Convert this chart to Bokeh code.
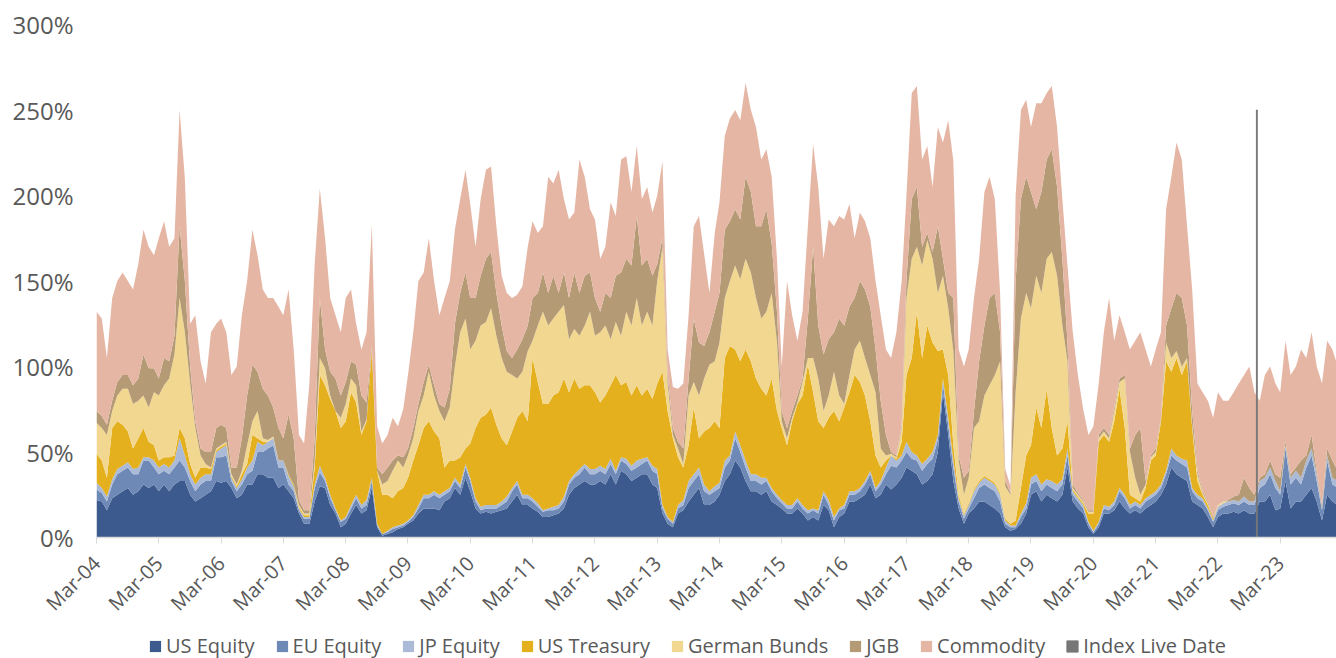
import pandas as pd
from math import pi
from bokeh.plotting import figure
from bokeh.layouts import column
from bokeh.models import (ColumnDataSource, Range1d, FixedTicker,
                          DatetimeTickFormatter, PrintfTickFormatter)
from bokeh.embed import file_html
from bokeh.resources import INLINE

# ---------------- data (monthly, starting Mar-2004) ----------------
start_month = "2004-03-01"

us_equity = [
    22, 21, 16, 23, 25, 27, 29, 25, 27, 31, 29, 31,
    27, 31, 27, 31, 33, 33, 25, 21, 23, 25, 27, 33,
    32, 33, 29, 23, 25, 31, 31, 37, 37, 35, 35, 29,
    31, 27, 23, 14, 8, 8, 21, 30, 29, 19, 14, 6,
    8, 14, 19, 14, 16, 29, 6, 1, 2, 3, 5, 6,
    8, 10, 14, 17, 17, 17, 16, 21, 23, 29, 25, 35,
    27, 17, 14, 15, 14, 15, 16, 17, 21, 25, 19, 19,
    17, 15, 12, 12, 13, 14, 17, 25, 29, 31, 33, 31,
    31, 33, 31, 37, 31, 39, 37, 33, 35, 37, 37, 31,
    29, 14, 8, 6, 14, 16, 21, 25, 29, 19, 19, 21,
    25, 33, 37, 45, 41, 33, 27, 27, 25, 27, 21, 19,
    17, 14, 14, 17, 14, 10, 12, 10, 19, 16, 6, 12,
    14, 21, 21, 23, 25, 31, 23, 25, 31, 28, 31, 35,
    41, 39, 37, 31, 33, 37, 50, 85, 60, 33, 17, 8,
    14, 17, 21, 21, 19, 17, 14, 6, 4, 5, 8, 14,
    25, 27, 21, 25, 23, 21, 25, 41, 21, 17, 14, 6,
    2, 6, 14, 14, 16, 21, 17, 14, 16, 14, 17, 19,
    21, 25, 31, 41, 37, 35, 33, 21, 19, 17, 12, 6,
    12, 14, 14, 15, 14, 16, 14, 14, 21, 21, 25, 16,
    17, 33, 17, 21, 21, 25, 29, 21, 10, 25, 21, 19,
]

eu_equity = [
    6, 5, 5, 8, 12, 12, 12, 12, 10, 14, 16, 10,
    10, 8, 10, 10, 12, 8, 8, 6, 8, 8, 6, 14,
    15, 15, 4, 4, 6, 6, 8, 13, 13, 17, 19, 12,
    10, 4, 4, 2, 3, 3, 8, 8, 4, 4, 2, 3,
    3, 3, 4, 3, 3, 4, 1, 1, 1, 2, 1, 1,
    1, 2, 3, 6, 6, 8, 7, 4, 4, 4, 4, 6,
    6, 4, 2, 2, 3, 2, 3, 4, 6, 6, 4, 4,
    4, 3, 3, 4, 3, 3, 4, 6, 6, 6, 8, 6,
    6, 6, 6, 6, 6, 6, 6, 6, 6, 6, 8, 8,
    8, 3, 3, 2, 3, 3, 8, 8, 8, 8, 6, 6,
    4, 8, 8, 13, 9, 8, 6, 6, 6, 6, 6, 4,
    3, 3, 3, 4, 3, 4, 4, 4, 6, 3, 4, 4,
    3, 4, 4, 4, 6, 6, 4, 6, 6, 14, 10, 10,
    9, 7, 8, 8, 10, 9, 7, 5, 6, 8, 4, 3,
    3, 6, 8, 10, 10, 10, 7, 2, 2, 1, 4, 3,
    6, 6, 6, 6, 6, 6, 6, 7, 4, 4, 3, 2,
    1, 2, 3, 2, 3, 6, 6, 3, 3, 3, 4, 4,
    4, 4, 6, 7, 8, 8, 8, 6, 4, 4, 4, 3,
    4, 4, 5, 5, 5, 5, 5, 5, 8, 10, 12, 13,
    8, 19, 14, 14, 10, 16, 19, 12, 6, 20, 10, 10,
]

jp_equity = [
    4, 3, 3, 3, 3, 3, 3, 3, 4, 2, 2, 4,
    4, 4, 4, 4, 13, 7, 4, 4, 4, 4, 4, 3,
    5, 6, 2, 2, 3, 4, 6, 6, 4, 4, 4, 4,
    4, 5, 3, 1, 1, 1, 2, 4, 2, 2, 1, 1,
    1, 2, 2, 2, 3, 2, 1, 0, 1, 1, 1, 1,
    1, 1, 2, 2, 2, 2, 2, 2, 2, 2, 2, 2,
    2, 2, 2, 2, 2, 2, 2, 3, 2, 2, 2, 2,
    2, 2, 1, 1, 2, 2, 3, 2, 2, 3, 2, 3,
    3, 3, 3, 3, 2, 2, 3, 3, 4, 3, 2, 3,
    3, 2, 1, 1, 2, 3, 4, 4, 4, 4, 2, 3,
    3, 4, 3, 4, 4, 4, 4, 4, 4, 2, 2, 2,
    2, 2, 2, 2, 2, 2, 1, 2, 2, 3, 2, 1,
    2, 2, 2, 2, 2, 2, 2, 2, 4, 6, 4, 3,
    6, 4, 3, 4, 3, 4, 3, 3, 4, 4, 2, 2,
    2, 4, 3, 4, 4, 4, 4, 2, 1, 1, 2, 3,
    4, 4, 4, 3, 4, 4, 3, 4, 2, 2, 2, 1,
    1, 1, 2, 2, 2, 2, 2, 2, 2, 2, 2, 2,
    2, 2, 2, 4, 3, 3, 4, 2, 2, 2, 1, 1,
    2, 2, 2, 2, 2, 3, 2, 2, 4, 4, 4, 4,
    2, 2, 4, 4, 4, 4, 4, 4, 1, 3, 4, 4,
]

us_treasury = [
    17, 16, 11, 30, 28, 24, 18, 12, 17, 17, 9, 9,
    4, 4, 6, 3, 6, 10, 6, 4, 6, 4, 3, 1,
    1, 1, 1, 1, 3, 2, 15, 2, 2, 0, 0, 0,
    0, 1, 1, 1, 1, 1, 10, 53, 54, 56, 57, 54,
    56, 66, 54, 41, 46, 75, 31, 23, 21, 17, 20, 21,
    25, 32, 35, 39, 43, 35, 33, 14, 16, 10, 16, 9,
    20, 41, 52, 53, 57, 47, 37, 30, 33, 37, 49, 43,
    82, 71, 62, 61, 65, 66, 69, 52, 56, 47, 46, 49,
    45, 37, 43, 43, 56, 42, 45, 41, 44, 37, 40, 39,
    50, 78, 62, 49, 28, 19, 21, 39, 17, 31, 37, 38,
    32, 60, 64, 48, 49, 65, 66, 56, 52, 48, 64, 49,
    42, 35, 49, 55, 64, 85, 68, 52, 37, 48, 62, 51,
    57, 58, 68, 62, 50, 29, 19, 8, 4, 0, 1, 8,
    39, 55, 84, 62, 78, 64, 49, 17, 25, 9, 2, 1,
    1, 1, 1, 1, 1, 1, 1, 1, 1, 3, 15, 28,
    19, 39, 33, 53, 31, 17, 18, 16, 1, 1, 1, 5,
    10, 47, 41, 38, 47, 58, 39, 6, 2, 2, 6, 20,
    21, 37, 64, 45, 57, 49, 58, 35, 8, 2, 2, 1,
    0, 0, 0, 0, 0, 0, 0, 0, 0, 0, 0, 0,
    0, 0, 0, 0, 0, 0, 0, 0, 0, 0, 0, 0,
]

german_bunds = [
    18, 19, 25, 10, 15, 21, 25, 26, 22, 19, 20, 31,
    38, 42, 46, 59, 76, 62, 47, 29, 7, 2, 1, 1,
    1, 1, 1, 1, 2, 11, 8, 16, 2, 1, 1, 0,
    0, 0, 0, 1, 1, 1, 4, 10, 10, 2, 0, 6,
    10, 8, 10, 2, 1, 1, 0, 6, 8, 16, 18, 12,
    13, 13, 20, 19, 29, 21, 16, 27, 31, 55, 73, 76,
    55, 51, 54, 54, 58, 52, 47, 43, 33, 23, 23, 41,
    10, 33, 54, 46, 45, 47, 43, 31, 29, 31, 35, 43,
    33, 41, 41, 27, 31, 29, 41, 41, 51, 41, 45, 43,
    60, 73, 16, 2, 5, 2, 29, 15, 25, 31, 37, 35,
    50, 35, 38, 49, 48, 53, 52, 47, 41, 49, 50, 40,
    4, 4, 2, 1, 8, 4, 20, 25, 10, 13, 23, 15,
    2, 10, 15, 24, 22, 27, 37, 11, 3, 1, 1, 8,
    45, 58, 38, 54, 50, 49, 34, 43, 39, 55, 20, 11,
    15, 36, 35, 47, 55, 63, 77, 19, 17, 75, 99, 95,
    80, 77, 79, 76, 103, 105, 72, 35, 1, 1, 1, 1,
    1, 2, 2, 2, 6, 4, 29, 25, 12, 4, 2, 2,
    2, 1, 11, 8, 4, 5, 2, 2, 4, 1, 1, 0,
    1, 1, 0, 0, 0, 0, 0, 0, 0, 0, 0, 0,
    0, 0, 0, 0, 0, 0, 0, 0, 0, 0, 0, 0,
]

jgb = [
    7, 7, 6, 6, 8, 8, 8, 11, 13, 24, 23, 14,
    10, 16, 10, 11, 42, 30, 10, 4, 4, 7, 9, 12,
    12, 8, 4, 10, 19, 29, 33, 23, 29, 26, 17, 19,
    13, 35, 27, 3, 2, 2, 13, 35, 11, 14, 19, 13,
    13, 10, 12, 21, 10, 1, 2, 6, 8, 6, 3, 6,
    4, 6, 4, 8, 4, 6, 4, 8, 11, 25, 23, 27,
    30, 25, 29, 37, 33, 25, 19, 12, 10, 17, 19, 15,
    25, 19, 23, 19, 25, 11, 19, 24, 33, 25, 29, 23,
    22, 12, 19, 24, 27, 37, 31, 35, 48, 35, 31, 29,
    10, 5, 5, 4, 4, 9, 10, 37, 31, 19, 19, 29,
    29, 40, 35, 33, 35, 48, 47, 42, 54, 60, 29, 18,
    6, 6, 4, 4, 2, 23, 65, 31, 33, 33, 23, 45,
    46, 40, 30, 35, 40, 40, 25, 28, 12, 1, 1, 2,
    10, 35, 35, 11, 4, 4, 39, 10, 9, 31, 3, 10,
    4, 10, 35, 41, 51, 48, 17, 3, 1, 65, 70, 68,
    68, 39, 59, 58, 60, 52, 39, 11, 2, 1, 1, 1,
    1, 2, 2, 2, 2, 2, 2, 2, 25, 39, 2, 1,
    2, 1, 10, 29, 34, 40, 19, 8, 2, 1, 1, 1,
    0, 0, 1, 2, 4, 11, 8, 4, 2, 2, 4, 4,
    8, 2, 2, 2, 10, 3, 8, 2, 2, 4, 10, 6,
]

commodity = [
    58, 57, 39, 60, 59, 60, 55, 56, 67, 73, 71, 66,
    82, 80, 67, 57, 68, 60, 25, 62, 51, 40, 70, 61,
    62, 56, 54, 59, 72, 67, 79, 68, 58, 57, 64, 71,
    72, 73, 52, 38, 39, 74, 102, 64, 65, 43, 37, 37,
    49, 42, 24, 27, 41, 71, 24, 18, 19, 25, 17, 28,
    43, 56, 72, 64, 74, 61, 52, 64, 63, 55, 55, 60,
    55, 30, 45, 52, 50, 39, 29, 34, 35, 32, 31, 46,
    45, 35, 27, 68, 54, 72, 43, 46, 35, 78, 58, 37,
    46, 31, 27, 56, 35, 66, 60, 43, 41, 39, 42, 37,
    40, 45, 15, 24, 31, 38, 37, 54, 74, 54, 23, 46,
    53, 55, 60, 58, 58, 55, 48, 58, 39, 35, 39, 31,
    26, 86, 56, 32, 39, 54, 60, 81, 56, 70, 62, 60,
    62, 60, 35, 40, 40, 40, 40, 50, 50, 55, 72, 84,
    50, 62, 59, 51, 51, 38, 58, 68, 101, 80, 62, 65,
    71, 66, 60, 78, 71, 55, 23, 7, 4, 50, 52, 45,
    38, 62, 52, 39, 37, 35, 35, 45, 89, 69, 53, 44,
    49, 30, 56, 80, 39, 37, 25, 58, 55, 56, 77, 52,
    58, 50, 68, 77, 88, 81, 58, 71, 51, 58, 59, 58,
    66, 59, 58, 61, 65, 60, 71, 60, 45, 58, 55, 53,
    50, 59, 58, 59, 65, 57, 60, 61, 71, 63, 65, 61,
]

series_names = ["US Equity", "EU Equity", "JP Equity", "US Treasury",
                "German Bunds", "JGB", "Commodity"]
series_keys = ["us_equity", "eu_equity", "jp_equity", "us_treasury",
               "german_bunds", "jgb", "commodity"]
series_colors = ["#3C5A8D", "#6F89B7", "#AABAD7", "#E5B01E",
                 "#F2D791", "#B59B75", "#E6B6A5"]

index_live_name = "Index Live Date"
index_live_date = "2022-10-15"
index_live_level = 250
index_live_color = "#777777"

tick_years = list(range(2004, 2024))
y_ticks = [0, 50, 100, 150, 200, 250, 300]
x_start = "2004-03-01"
x_end = "2024-01-25"

# ---------------- build ----------------
dates = pd.date_range(start_month, periods=len(us_equity), freq="MS")
source = ColumnDataSource(dict(
    date=dates,
    us_equity=us_equity, eu_equity=eu_equity, jp_equity=jp_equity,
    us_treasury=us_treasury, german_bunds=german_bunds, jgb=jgb,
    commodity=commodity,
))
live_source = ColumnDataSource(dict(
    date=[pd.Timestamp(index_live_date)], level=[index_live_level]))

FONT = "Open Sans"
TXT = "#595959"
W = 1336
H_MAIN = 628
H_LEG = 30
BAR_W = 5 * 86400000  # about one pixel wide

p = figure(width=W, height=H_MAIN, x_axis_type="datetime",
           output_backend="svg", toolbar_location=None,
           x_range=Range1d(pd.Timestamp(x_start), pd.Timestamp(x_end)),
           y_range=Range1d(0, 300),
           min_border_left=96, min_border_right=0,
           min_border_top=24, min_border_bottom=88)

p.varea_stack(stackers=series_keys, x="date", color=series_colors,
              source=source)
p.vbar(x="date", top="level", bottom=0, width=BAR_W,
       color=index_live_color, source=live_source)

p.grid.visible = False
p.outline_line_color = None
p.background_fill_color = "white"
p.border_fill_color = "white"

# x axis
p.xaxis.ticker = FixedTicker(
    ticks=[pd.Timestamp(f"{y}-03-01").timestamp() * 1000 for y in tick_years])
fmt = "%b-%y"
p.xaxis.formatter = DatetimeTickFormatter(
    milliseconds=fmt, seconds=fmt, minsec=fmt, minutes=fmt, hourmin=fmt,
    hours=fmt, days=fmt, months=fmt, years=fmt)
p.xaxis.major_label_orientation = pi / 4
p.xaxis.major_label_text_font = FONT
p.xaxis.major_label_text_font_size = "20px"
p.xaxis.major_label_text_color = TXT
p.xaxis.axis_line_color = "#D9D9D9"
p.xaxis.axis_line_width = 1.5
p.xaxis.major_tick_line_color = "#D9D9D9"
p.xaxis.major_tick_out = 6
p.xaxis.major_tick_in = 0
p.xaxis.minor_tick_line_color = None
p.xaxis.major_label_standoff = 16

# y axis
p.yaxis.ticker = FixedTicker(ticks=y_ticks)
p.yaxis.formatter = PrintfTickFormatter(format="%d%%")
p.yaxis.axis_line_color = None
p.yaxis.major_tick_line_color = None
p.yaxis.minor_tick_line_color = None
p.yaxis.major_tick_out = 0
p.yaxis.major_tick_in = 0
p.yaxis.major_label_standoff = 23
p.yaxis.major_label_text_font = FONT
p.yaxis.major_label_text_font_size = "24px"
p.yaxis.major_label_text_color = TXT

# ---------------- legend strip (same renderers, view outside the data) ----
leg = figure(width=W, height=H_LEG, output_backend="svg",
             toolbar_location=None, x_range=Range1d(0, 1),
             y_range=Range1d(0, 1), min_border=0)
leg.axis.visible = False
leg.grid.visible = False
leg.outline_line_color = None
leg.varea_stack(stackers=series_keys, x="date", color=series_colors,
                source=source, legend_label=series_names)
leg.vbar(x="date", top="level", bottom=0, width=BAR_W,
         color=index_live_color, source=live_source,
         legend_label=index_live_name)

lg = leg.legend[0]
lg.orientation = "horizontal"
lg.location = (52, -1)
lg.padding = 0
lg.margin = 0
lg.spacing = 20
lg.border_line_color = None
lg.background_fill_alpha = 0
lg.glyph_width = 14
lg.glyph_height = 14
lg.label_standoff = 4
lg.label_text_font = FONT
lg.label_text_font_size = "20px"
lg.label_text_color = TXT
lg.label_height = 22

layout = column(p, leg, spacing=0)
open("out.html", "w").write(file_html(layout, INLINE))
